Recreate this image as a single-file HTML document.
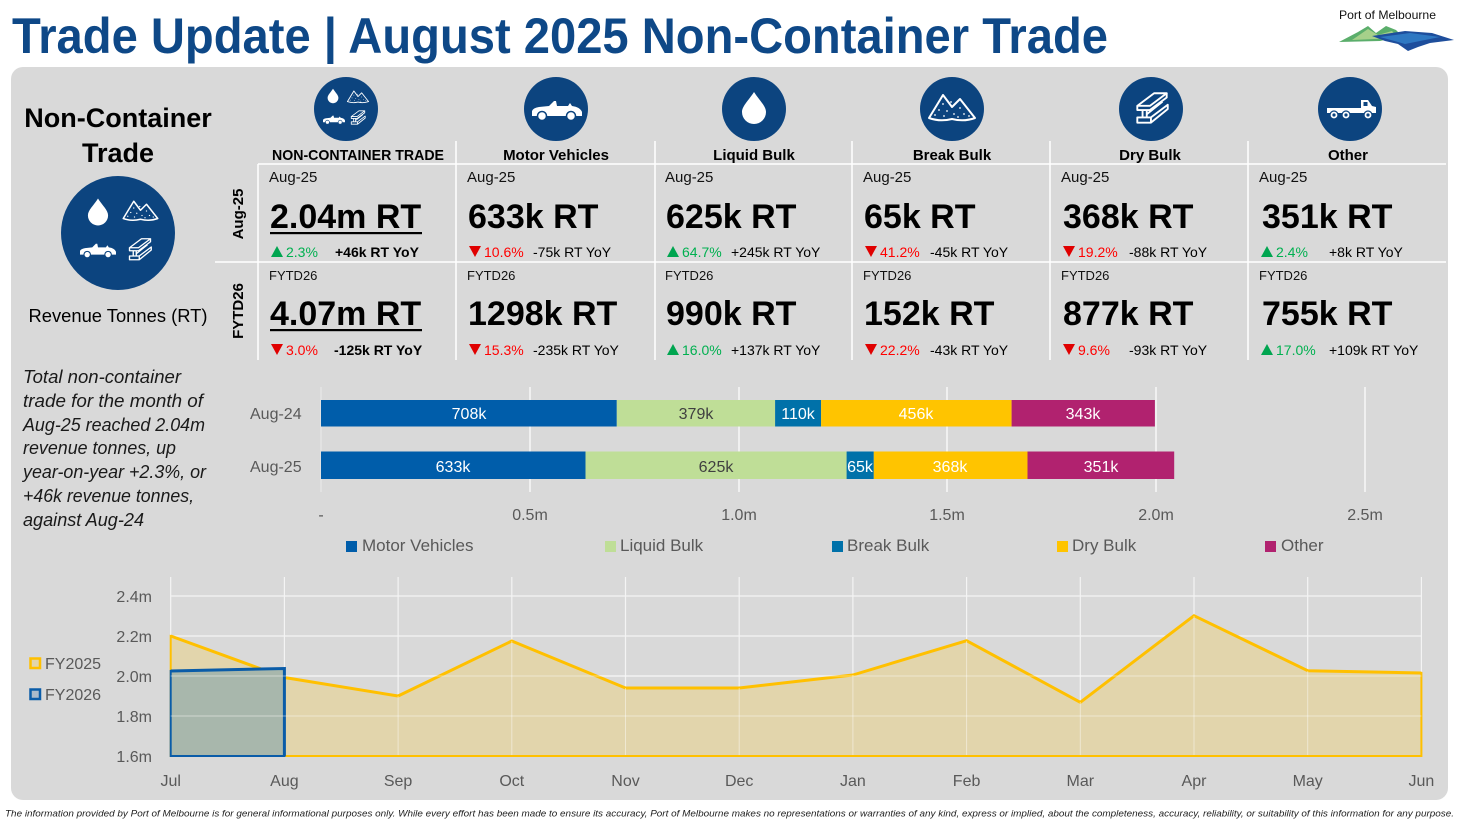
<!DOCTYPE html>
<html><head><meta charset="utf-8"><style>
html,body{margin:0;padding:0;background:#fff;}
svg{display:block;font-family:"Liberation Sans",Arial,sans-serif;}
</style></head><body>
<svg width="1460" height="819" viewBox="0 0 1460 819" xmlns="http://www.w3.org/2000/svg">
<defs>
 <g id="drop"><path d="M0,-16 C-5,-8 -12,-2 -12,4 A12,12 0 0 0 12,4 C12,-2 5,-8 0,-16Z" fill="#fff"/></g>
 <g id="car">
  <path d="M-25,5 L-25,0 Q-24,-3 -18,-4 L-8,-5 L-3,-10 L-1,-10 L0,-5 L11,-5 L13,-8 L15,-5 Q23,-4 25,1 L25,5 Z" fill="#fff"/>
  <circle cx="-15" cy="5" r="4.5" fill="#fff" stroke="#0C447F" stroke-width="1.5"/>
  <circle cx="14" cy="5" r="4.5" fill="#fff" stroke="#0C447F" stroke-width="1.5"/>
 </g>
 <g id="mtn">
  <path d="M-23,10 L-9,-13 L0,-1 L8,-9 L23,10 Q12,14 0,11 Q-12,14 -23,10 Z" fill="none" stroke="#fff" stroke-width="2" stroke-linejoin="round"/>
  <g fill="#fff"><circle cx="-9" cy="-4" r="0.9"/><circle cx="-13" cy="2" r="0.9"/><circle cx="-5" cy="3" r="0.9"/><circle cx="-17" cy="7" r="0.9"/><circle cx="-8" cy="8" r="0.9"/><circle cx="2" cy="6" r="0.9"/><circle cx="8" cy="0" r="0.9"/><circle cx="12" cy="6" r="0.9"/><circle cx="17" cy="8" r="0.9"/><circle cx="6" cy="9" r="0.9"/><circle cx="-1" cy="-6" r="0.9"/></g>
 </g>
 <g id="beam" fill="none" stroke="#fff" stroke-width="1.8" stroke-linejoin="round">
  <path d="M-14,-3 L-2,-3 L14,-15 L2,-15 Z"/>
  <path d="M-14,-3 L-14,1 L-2,1 L14,-11 L14,-15"/>
  <path d="M-9,1 L-9,8 M-5,1 L-5,8"/>
  <path d="M-14,8 L-1,8 L-1,13 L-14,13 Z M-1,8 L15,-4 L15,0 L-1,13"/>
  <path d="M-5,5 L10,-7"/>
 </g>
 <g id="truck">
  <rect x="-24" y="-1" width="35" height="5" fill="#fff"/>
  <path d="M10,4 L10,-9 L17,-9 L21,-3 L25,-2 L25,4 Z" fill="#fff"/>
  <rect x="12.5" y="-7" width="4" height="4" fill="#0C447F"/>
  <circle cx="-17" cy="6" r="4" fill="#fff" stroke="#0C447F" stroke-width="1.2"/><circle cx="-17" cy="6" r="1.6" fill="#0C447F"/>
  <circle cx="-5" cy="6" r="4" fill="#fff" stroke="#0C447F" stroke-width="1.2"/><circle cx="-5" cy="6" r="1.6" fill="#0C447F"/>
  <circle cx="17" cy="6" r="4" fill="#fff" stroke="#0C447F" stroke-width="1.2"/><circle cx="17" cy="6" r="1.6" fill="#0C447F"/>
 </g>
</defs>

<!-- Title -->
<text x="12" y="53" font-size="50" font-weight="bold" fill="#0E4887" textLength="1096" lengthAdjust="spacingAndGlyphs">Trade Update | August 2025 Non-Container Trade</text>

<!-- Logo -->
<text x="1339" y="19" font-size="12" fill="#111" textLength="97" lengthAdjust="spacingAndGlyphs">Port of Melbourne</text>
<path d="M1339,42 L1358,32 L1368,26 L1376,33 L1386,26 L1396,30 L1402,36 L1380,41 Z" fill="#5BAE6B"/>
<path d="M1352,40 L1368,29 L1378,35 L1392,31 L1398,38 Z" fill="#A6D08A"/>
<path d="M1372,36 L1405,31 L1432,33 L1454,40 L1430,43 L1418,47 L1408,51 L1398,44 L1385,41 Z" fill="#1E4E9C"/>
<path d="M1380,37 L1410,33 L1440,37 L1420,41 L1405,44 Z" fill="#2F78C2"/>

<!-- Panel -->
<rect x="11" y="67" width="1437" height="733" rx="12" fill="#D9D9D9"/>

<!-- Left section -->
<text x="118" y="127" font-size="27" font-weight="bold" fill="#000" text-anchor="middle">Non-Container</text>
<text x="118" y="162" font-size="27" font-weight="bold" fill="#000" text-anchor="middle">Trade</text>
<circle cx="118" cy="233" r="57" fill="#0C447F"/>
<use href="#drop" transform="translate(98,212) scale(0.84)"/>
<use href="#mtn" transform="translate(140.5,211) scale(0.75)"/>
<use href="#car" transform="translate(98,251) scale(0.72)"/>
<use href="#beam" transform="translate(140,250) scale(0.75)"/>
<text x="118" y="322" font-size="18" fill="#000" text-anchor="middle" textLength="179" lengthAdjust="spacingAndGlyphs">Revenue Tonnes (RT)</text>

<g font-size="18" font-style="italic" fill="#1a1a1a">
 <text x="23" y="383" textLength="158" lengthAdjust="spacingAndGlyphs">Total non-container</text>
 <text x="23" y="407" textLength="180" lengthAdjust="spacingAndGlyphs">trade for the month of</text>
 <text x="23" y="431" textLength="182" lengthAdjust="spacingAndGlyphs">Aug-25 reached 2.04m</text>
 <text x="23" y="454" textLength="153" lengthAdjust="spacingAndGlyphs">revenue tonnes, up</text>
 <text x="23" y="478" textLength="183" lengthAdjust="spacingAndGlyphs">year-on-year +2.3%, or</text>
 <text x="23" y="502" textLength="171" lengthAdjust="spacingAndGlyphs">+46k revenue tonnes,</text>
 <text x="23" y="526" textLength="121" lengthAdjust="spacingAndGlyphs">against Aug-24</text>
</g>

<!-- Row labels -->
<text transform="translate(243,214) rotate(-90)" text-anchor="middle" font-size="15" font-weight="bold" fill="#000">Aug-25</text>
<text transform="translate(243,311) rotate(-90)" text-anchor="middle" font-size="15" font-weight="bold" fill="#000">FYTD26</text>

<!-- KPI grid lines -->
<g stroke="#fff" stroke-width="1.5">
 <line x1="258" y1="164" x2="1446" y2="164"/>
 <line x1="215" y1="262" x2="1446" y2="262"/>
 <line x1="258" y1="164" x2="258" y2="360"/>
 <line x1="456" y1="141" x2="456" y2="360"/>
 <line x1="655" y1="141" x2="655" y2="360"/>
 <line x1="852" y1="141" x2="852" y2="360"/>
 <line x1="1050" y1="141" x2="1050" y2="360"/>
 <line x1="1248" y1="141" x2="1248" y2="360"/>
</g>

<!-- Icons -->
<g fill="#0C447F">
 <circle cx="346" cy="109" r="32"/>
 <circle cx="556" cy="109" r="32"/>
 <circle cx="754" cy="109" r="32"/>
 <circle cx="952" cy="109" r="32"/>
 <circle cx="1151" cy="109" r="32"/>
 <circle cx="1350" cy="109" r="32"/>
</g>
<use href="#drop" transform="translate(333,96) scale(0.45)"/>
<use href="#mtn" transform="translate(358,97) scale(0.46)"/>
<use href="#car" transform="translate(334,120) scale(0.44)"/>
<use href="#beam" transform="translate(358,118) scale(0.48)"/>
<use href="#car" transform="translate(557,111)"/>
<use href="#drop" transform="translate(754,108)"/>
<use href="#mtn" transform="translate(952,108)"/>
<use href="#beam" transform="translate(1152,109) scale(1.05)"/>
<use href="#truck" transform="translate(1351,109)"/>

<!-- Headers -->
<g font-size="15" font-weight="bold" fill="#000" text-anchor="middle">
 <text x="358" y="160" textLength="172" lengthAdjust="spacingAndGlyphs">NON-CONTAINER TRADE</text>
 <text x="556" y="160">Motor Vehicles</text>
 <text x="754" y="160">Liquid Bulk</text>
 <text x="952" y="160">Break Bulk</text>
 <text x="1150" y="160">Dry Bulk</text>
 <text x="1348" y="160">Other</text>
</g>

<!-- Period labels -->
<g font-size="15" fill="#111">
 <text x="269" y="182">Aug-25</text><text x="467" y="182">Aug-25</text><text x="665" y="182">Aug-25</text>
 <text x="863" y="182">Aug-25</text><text x="1061" y="182">Aug-25</text><text x="1259" y="182">Aug-25</text>
</g>
<g font-size="13" fill="#111">
 <text x="269" y="280">FYTD26</text><text x="467" y="280">FYTD26</text><text x="665" y="280">FYTD26</text>
 <text x="863" y="280">FYTD26</text><text x="1061" y="280">FYTD26</text><text x="1259" y="280">FYTD26</text>
</g>

<!-- Big values -->
<g font-size="34" font-weight="bold" fill="#000">
 <text x="270" y="228">2.04m RT</text><text x="468" y="228">633k RT</text><text x="666" y="228">625k RT</text>
 <text x="864" y="228">65k RT</text><text x="1063" y="228">368k RT</text><text x="1262" y="228">351k RT</text>
 <text x="270" y="325">4.07m RT</text><text x="468" y="325">1298k RT</text><text x="666" y="325">990k RT</text>
 <text x="864" y="325">152k RT</text><text x="1063" y="325">877k RT</text><text x="1262" y="325">755k RT</text>
</g>
<rect x="270" y="232" width="152" height="2.2" fill="#000"/>
<rect x="270" y="329" width="152" height="2.2" fill="#000"/>

<!-- Triangles -->
<g>
 <polygon points="271,257 283,257 277,246" fill="#00A550"/>
 <polygon points="469,246 481,246 475,257" fill="#E00000"/>
 <polygon points="667,257 679,257 673,246" fill="#00A550"/>
 <polygon points="865,246 877,246 871,257" fill="#E00000"/>
 <polygon points="1063,246 1075,246 1069,257" fill="#E00000"/>
 <polygon points="1261,257 1273,257 1267,246" fill="#00A550"/>
 <polygon points="271,344 283,344 277,355" fill="#E00000"/>
 <polygon points="469,344 481,344 475,355" fill="#E00000"/>
 <polygon points="667,355 679,355 673,344" fill="#00A550"/>
 <polygon points="865,344 877,344 871,355" fill="#E00000"/>
 <polygon points="1063,344 1075,344 1069,355" fill="#E00000"/>
 <polygon points="1261,355 1273,355 1267,344" fill="#00A550"/>
</g>
<g font-size="14">
 <text x="286" y="257" fill="#00B050">2.3%</text>
 <text x="484" y="257" fill="#FF0000">10.6%</text>
 <text x="682" y="257" fill="#00B050">64.7%</text>
 <text x="880" y="257" fill="#FF0000">41.2%</text>
 <text x="1078" y="257" fill="#FF0000">19.2%</text>
 <text x="1276" y="257" fill="#00B050">2.4%</text>
 <text x="286" y="355" fill="#FF0000">3.0%</text>
 <text x="484" y="355" fill="#FF0000">15.3%</text>
 <text x="682" y="355" fill="#00B050">16.0%</text>
 <text x="880" y="355" fill="#FF0000">22.2%</text>
 <text x="1078" y="355" fill="#FF0000">9.6%</text>
 <text x="1276" y="355" fill="#00B050">17.0%</text>
</g>
<g font-size="14" fill="#000">
 <text x="335" y="257" font-weight="bold">+46k RT YoY</text>
 <text x="533" y="257">-75k RT YoY</text>
 <text x="731" y="257">+245k RT YoY</text>
 <text x="930" y="257">-45k RT YoY</text>
 <text x="1129" y="257">-88k RT YoY</text>
 <text x="1329" y="257">+8k RT YoY</text>
 <text x="334" y="355" font-weight="bold">-125k RT YoY</text>
 <text x="533" y="355">-235k RT YoY</text>
 <text x="731" y="355">+137k RT YoY</text>
 <text x="930" y="355">-43k RT YoY</text>
 <text x="1129" y="355">-93k RT YoY</text>
 <text x="1329" y="355">+109k RT YoY</text>
</g>

<!-- Bar chart -->
<g stroke="#fff" stroke-width="1.2">
 <line x1="321" y1="387" x2="321" y2="492" stroke-opacity="0.4"/>
 <line x1="530" y1="387" x2="530" y2="492"/>
 <line x1="739" y1="387" x2="739" y2="492"/>
 <line x1="947" y1="387" x2="947" y2="492"/>
 <line x1="1156" y1="387" x2="1156" y2="492"/>
 <line x1="1365" y1="387" x2="1365" y2="492"/>
</g>
<rect x="321" y="400" width="295.8" height="26.5" fill="#005DAA"/>
<rect x="616.8" y="400" width="158.3" height="26.5" fill="#BFDE97"/>
<rect x="775.1" y="400" width="46" height="26.5" fill="#0071A9"/>
<rect x="821.1" y="400" width="190.5" height="26.5" fill="#FFC400"/>
<rect x="1011.6" y="400" width="143.3" height="26.5" fill="#B1226F"/>
<rect x="321" y="451.5" width="264.5" height="27.5" fill="#005DAA"/>
<rect x="585.5" y="451.5" width="261.1" height="27.5" fill="#BFDE97"/>
<rect x="846.6" y="451.5" width="27.2" height="27.5" fill="#0071A9"/>
<rect x="873.8" y="451.5" width="153.7" height="27.5" fill="#FFC400"/>
<rect x="1027.5" y="451.5" width="146.7" height="27.5" fill="#B1226F"/>
<g font-size="16" text-anchor="middle" fill="#fff">
 <text x="469" y="419">708k</text>
 <text x="696" y="419" fill="#404040">379k</text>
 <text x="798" y="419">110k</text>
 <text x="916" y="419">456k</text>
 <text x="1083" y="419">343k</text>
 <text x="453" y="472">633k</text>
 <text x="716" y="472" fill="#404040">625k</text>
 <text x="860" y="472">65k</text>
 <text x="950" y="472">368k</text>
 <text x="1101" y="472">351k</text>
</g>
<g font-size="16" fill="#595959">
 <text x="250" y="419">Aug-24</text>
 <text x="250" y="472">Aug-25</text>
</g>
<g font-size="16" fill="#595959" text-anchor="middle">
 <text x="321" y="520">-</text>
 <text x="530" y="520">0.5m</text>
 <text x="739" y="520">1.0m</text>
 <text x="947" y="520">1.5m</text>
 <text x="1156" y="520">2.0m</text>
 <text x="1365" y="520">2.5m</text>
</g>
<rect x="346" y="541" width="11" height="11" fill="#005DAA"/>
<rect x="605" y="541" width="11" height="11" fill="#BFDE97"/>
<rect x="832" y="541" width="11" height="11" fill="#0071A9"/>
<rect x="1057" y="541" width="11" height="11" fill="#FFC400"/>
<rect x="1265" y="541" width="11" height="11" fill="#B1226F"/>
<g font-size="17" fill="#595959">
 <text x="362" y="551">Motor Vehicles</text>
 <text x="620" y="551">Liquid Bulk</text>
 <text x="847" y="551">Break Bulk</text>
 <text x="1072" y="551">Dry Bulk</text>
 <text x="1281" y="551">Other</text>
</g>

<!-- Line chart gridlines -->
<g stroke="#F4F4F4" stroke-width="1.2">
 <line x1="170.7" y1="596" x2="1421.4" y2="596"/>
 <line x1="170.7" y1="636" x2="1421.4" y2="636"/>
 <line x1="170.7" y1="676" x2="1421.4" y2="676"/>
 <line x1="170.7" y1="716" x2="1421.4" y2="716"/>
 <line x1="170.7" y1="577" x2="170.7" y2="756"/>
 <line x1="284.4" y1="577" x2="284.4" y2="756"/>
 <line x1="398.1" y1="577" x2="398.1" y2="756"/>
 <line x1="511.8" y1="577" x2="511.8" y2="756"/>
 <line x1="625.5" y1="577" x2="625.5" y2="756"/>
 <line x1="739.2" y1="577" x2="739.2" y2="756"/>
 <line x1="852.9" y1="577" x2="852.9" y2="756"/>
 <line x1="966.6" y1="577" x2="966.6" y2="756"/>
 <line x1="1080.3" y1="577" x2="1080.3" y2="756"/>
 <line x1="1194" y1="577" x2="1194" y2="756"/>
 <line x1="1307.7" y1="577" x2="1307.7" y2="756"/>
 <line x1="1421.4" y1="577" x2="1421.4" y2="756"/>
</g>
<!-- FY2025 area -->
<path d="M170.7,756 L170.7,636 L284.4,677.5 L398.1,696 L511.8,641 L625.5,688 L739.2,688 L852.9,675 L966.6,640.7 L1080.3,702.3 L1194,615.7 L1307.7,670.7 L1421.4,673 L1421.4,756 Z" fill="#E2D5AC" stroke="#FFC000" stroke-width="2"/>
<polyline points="170.7,636 284.4,677.5 398.1,696 511.8,641 625.5,688 739.2,688 852.9,675 966.6,640.7 1080.3,702.3 1194,615.7 1307.7,670.7 1421.4,673" fill="none" stroke="#FFC000" stroke-width="3" stroke-linejoin="round"/>
<!-- FY2026 area -->
<path d="M170.7,756 L170.7,671 L284.4,668.5 L284.4,756 Z" fill="#A8B7AC" stroke="#0A5CA8" stroke-width="2"/>
<polyline points="170.7,671 284.4,668.5 284.4,756" fill="none" stroke="#0A5CA8" stroke-width="3"/>
<!-- gridlines over fill -->
<g stroke="#fff" stroke-width="1" stroke-opacity="0.45">
 <line x1="170.7" y1="676" x2="1421.4" y2="676"/>
 <line x1="170.7" y1="716" x2="1421.4" y2="716"/>
 <line x1="398.1" y1="696" x2="398.1" y2="755"/>
 <line x1="511.8" y1="641" x2="511.8" y2="755"/>
 <line x1="625.5" y1="688" x2="625.5" y2="755"/>
 <line x1="739.2" y1="688" x2="739.2" y2="755"/>
 <line x1="852.9" y1="675" x2="852.9" y2="755"/>
 <line x1="966.6" y1="641" x2="966.6" y2="755"/>
 <line x1="1080.3" y1="702" x2="1080.3" y2="755"/>
 <line x1="1194" y1="616" x2="1194" y2="755"/>
 <line x1="1307.7" y1="671" x2="1307.7" y2="755"/>
</g>
<g font-size="16" fill="#595959" text-anchor="end">
 <text x="152" y="602">2.4m</text>
 <text x="152" y="642">2.2m</text>
 <text x="152" y="682">2.0m</text>
 <text x="152" y="722">1.8m</text>
 <text x="152" y="762">1.6m</text>
</g>
<g font-size="16" fill="#595959" text-anchor="middle">
 <text x="170.7" y="786">Jul</text>
 <text x="284.4" y="786">Aug</text>
 <text x="398.1" y="786">Sep</text>
 <text x="511.8" y="786">Oct</text>
 <text x="625.5" y="786">Nov</text>
 <text x="739.2" y="786">Dec</text>
 <text x="852.9" y="786">Jan</text>
 <text x="966.6" y="786">Feb</text>
 <text x="1080.3" y="786">Mar</text>
 <text x="1194" y="786">Apr</text>
 <text x="1307.7" y="786">May</text>
 <text x="1421.4" y="786">Jun</text>
</g>
<!-- Legend line chart -->
<rect x="30.5" y="658.5" width="9.5" height="9.5" fill="#E2D5AC" stroke="#FFC000" stroke-width="2.5"/>
<rect x="30.5" y="689.5" width="9.5" height="9.5" fill="#A9BACB" stroke="#0A5CA8" stroke-width="2.5"/>
<g font-size="16" fill="#595959">
 <text x="45" y="669">FY2025</text>
 <text x="45" y="700">FY2026</text>
</g>

<!-- Footer -->
<text x="5" y="816.5" font-size="9" font-style="italic" fill="#222" textLength="1449" lengthAdjust="spacingAndGlyphs">The information provided by Port of Melbourne is for general informational purposes only. While every effort has been made to ensure its accuracy, Port of Melbourne makes no representations or warranties of any kind, express or implied, about the completeness, accuracy, reliability, or suitability of this information for any purpose.</text>
</svg>
</body></html>
